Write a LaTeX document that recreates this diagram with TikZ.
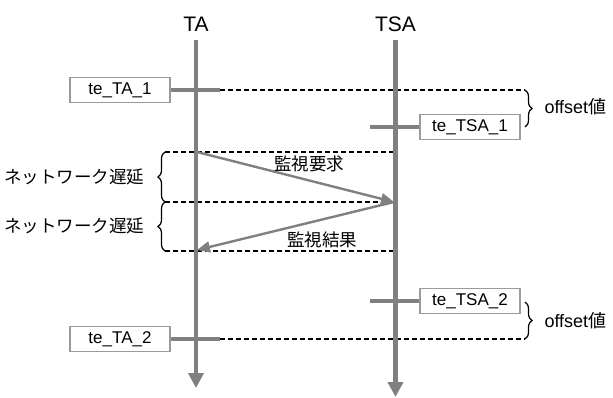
\documentclass[tikz,border=0pt]{standalone}
\usepackage{fontspec}
\setmainfont{Liberation Sans}
\newfontfamily\jp{Noto Sans CJK JP}
\usetikzlibrary{arrows.meta,decorations.pathreplacing}
\definecolor{linegray}{RGB}{128,128,128}
\definecolor{boxgray}{RGB}{155,155,155}
\begin{document}
\begin{tikzpicture}[x=1pt,y=-1pt,
  life/.style={draw=linegray, line width=4.5pt, -{Triangle[length=15pt,width=15pt]}},
  tickline/.style={draw=linegray, line width=4.5pt},
  msg/.style={draw=linegray, line width=2.4pt, -{Triangle[length=13pt,width=11pt]}},
  dashline/.style={draw=black, line width=1.3pt, dash pattern=on 5pt off 3pt},
  tbox/.style={draw=boxgray, line width=1.3pt, fill=white, minimum width=100pt, minimum height=25pt, inner sep=0pt, font=\fontsize{17}{20}\selectfont},
  head/.style={font=\fontsize{21}{24}\selectfont},
  lbl/.style={font=\fontsize{18}{20}\selectfont},
  jlbl/.style={font=\jp\fontsize{17.5}{20}\selectfont},
  bracer/.style={draw=black, line width=1.2pt, decorate, decoration={brace, amplitude=7pt}},
]
\useasboundingbox (0,0) rectangle (613,397);
% heads
\node[head] (TA) at (196,24.5) {TA};
\node[head] (TSA) at (395.5,24.5) {TSA};
\coordinate (TAtop) at (196,40);
\coordinate (TAbot) at (196,388);
\coordinate (TSAtop) at (395.5,40);
\coordinate (TSAbot) at (395.5,397);

% network delay dashed lines
\coordinate (d1l) at (165,152); \coordinate (d1r) at (395,152);
\coordinate (d2l) at (165,202); \coordinate (d2r) at (395,202);
\coordinate (d3l) at (165,251); \coordinate (d3r) at (395,251);
\draw[dashline] (d1l) -- (d1r);
\draw[dashline] (d2l) -- (d2r);
\draw[dashline] (d3l) -- (d3r);
\draw[bracer] (d2l) -- (d1l);
\draw[bracer] (d3l) -- (d2l);
\node[jlbl, anchor=east] (nd1) at (148,177) {ネットワーク遅延};
\node[jlbl, anchor=east] (nd2) at (148,226) {ネットワーク遅延};

% offset 1
\coordinate (t1a) at (220,90); \coordinate (r1) at (525,90); \coordinate (r2) at (525,127);
\draw[dashline] (t1a) -- (r1);
\draw[bracer] (r1) -- (r2);
\node[lbl, anchor=west] (off1) at (541,107) {offset\jp 値};

% offset 2
\coordinate (t2a) at (220,339); \coordinate (r3) at (525,302); \coordinate (r4) at (525,339);
\draw[dashline] (t2a) -- (r4);
\draw[bracer] (r3) -- (r4);
\node[lbl, anchor=west] (off2) at (541,320.5) {offset\jp 値};

% lifelines
\draw[life] (TAtop) -- (TAbot);
\draw[life] (TSAtop) -- (TSAbot);

% boxes and ticks
\node[tbox] (ta1) at (120,90) {te\_TA\_1};
\draw[tickline] (ta1.east) -- (t1a);
\node[tbox] (tsa1) at (470,127) {te\_TSA\_1};
\coordinate (s1) at (370,127);
\draw[tickline] (s1) -- (tsa1.west);
\node[tbox] (tsa2) at (470,301) {te\_TSA\_2};
\coordinate (s2) at (370,301);
\draw[tickline] (s2) -- (tsa2.west);
\node[tbox] (ta2) at (120,339) {te\_TA\_2};
\draw[tickline] (ta2.east) -- (t2a);

% messages
\coordinate (m1s) at (197,152);
\coordinate (m1e) at (394,202);
\coordinate (m2e) at (197,250);
\draw[msg] (m1s) -- (m1e);
\draw[msg] (m1e) -- (m2e);
\node[jlbl] (req) at (309,164) {監視要求};
\node[jlbl] (res) at (322,240) {監視結果};
\end{tikzpicture}
\end{document}
